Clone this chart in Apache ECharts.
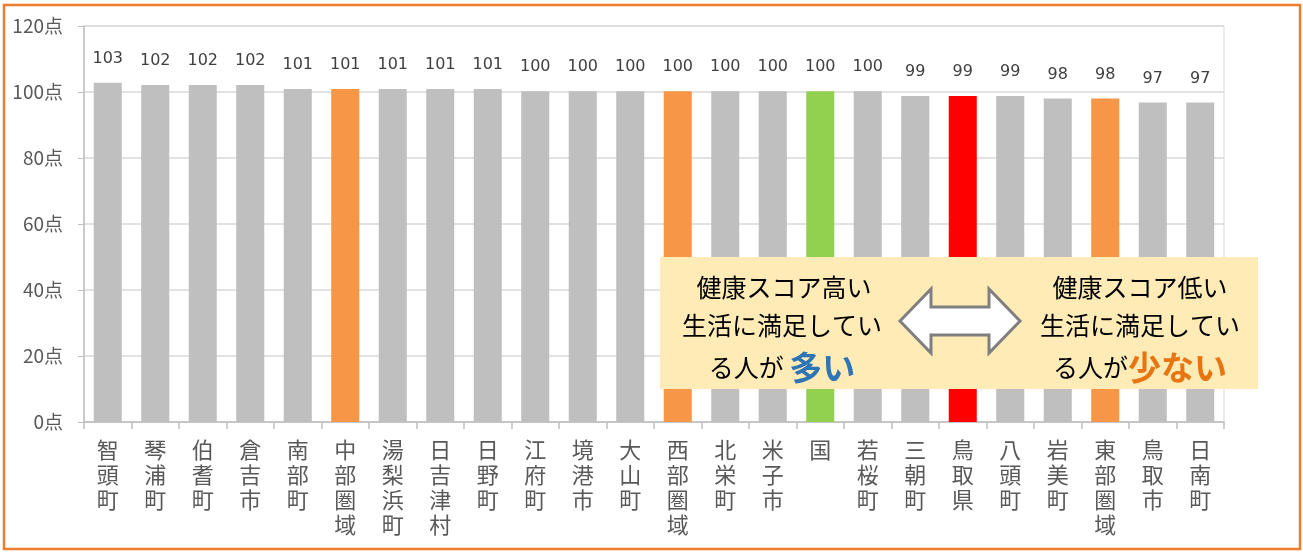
<!DOCTYPE html>
<html><head><meta charset="utf-8">
<script src="https://cdn.jsdelivr.net/npm/echarts@6/dist/echarts.min.js"></script>
<style>html,body{margin:0;padding:0;background:#fff}#c{width:1303px;height:552px}</style>
</head><body><div id="c"></div>
<script>
const categories = ['智頭町','琴浦町','伯耆町','倉吉市','南部町','中部圏域','湯梨浜町','日吉津村','日野町','江府町','境港市','大山町','西部圏域','北栄町','米子市','国','若桜町','三朝町','鳥取県','八頭町','岩美町','東部圏域','鳥取市','日南町'];
const values = [102.8,102.1,102.1,102.1,100.9,100.9,100.9,100.9,100.9,100.2,100.2,100.2,100.2,100.2,100.2,100.2,100.2,98.8,98.8,98.8,98.0,98.0,96.8,96.8];
const valueLabels = [103,102,102,102,101,101,101,101,101,100,100,100,100,100,100,100,100,99,99,99,98,98,97,97];
const barColors = ['#BFBFBF','#BFBFBF','#BFBFBF','#BFBFBF','#BFBFBF','#F79646','#BFBFBF','#BFBFBF','#BFBFBF','#BFBFBF','#BFBFBF','#BFBFBF','#F79646','#BFBFBF','#BFBFBF','#92D050','#BFBFBF','#BFBFBF','#FF0000','#BFBFBF','#BFBFBF','#F79646','#BFBFBF','#BFBFBF'];
const yTicks = {min:0, max:120, interval:20, suffix:'点'};

const chart = echarts.init(document.getElementById('c'));
const jp = '"Noto Sans CJK JP", sans-serif';
chart.setOption({
  backgroundColor:'#fff',
  animation:false,
  grid:{left:84, right:79, top:26, bottom:130, show:true, borderColor:'#D9D9D9', borderWidth:1},
  xAxis:{
    type:'category', data:categories,
    axisLine:{lineStyle:{color:'#BFBFBF', width:1.5}},
    axisTick:{show:true, length:7, lineStyle:{color:'#BFBFBF', width:1.5}},
    axisLabel:{interval:0, margin:15, color:'#595959', fontFamily:jp, fontSize:22, lineHeight:25,
      verticalAlign:'top', formatter:v=>v.split('').join('\n')}
  },
  yAxis:{
    type:'value', min:yTicks.min, max:yTicks.max, interval:yTicks.interval,
    axisLine:{show:true, lineStyle:{color:'#BFBFBF', width:1.5}},
    axisTick:{show:true, length:6, lineStyle:{color:'#BFBFBF'}},
    axisLabel:{margin:21, color:'#595959', fontFamily:jp, fontSize:19, formatter:v=>v+yTicks.suffix},
    splitLine:{lineStyle:{color:'#D9D9D9', width:1.5}}
  },
  series:[{
    type:'bar', barWidth:'59%',
    data: values.map((v,i)=>({value:v, itemStyle:{color:barColors[i]}})),
    label:{show:true, position:'top', distance:14, color:'#404040', fontFamily:'"DejaVu Sans", sans-serif', fontSize:16,
      backgroundColor:'#fff', padding:[2,3],
      formatter:p=>String(valueLabels[p.dataIndex])}
  }],
  graphic:[
    {type:'rect', shape:{x:4, y:5, width:1296, height:544}, style:{fill:null, stroke:'#ED7D31', lineWidth:2.5}, z:100},
    {type:'rect', shape:{x:660, y:257, width:598, height:132}, style:{fill:'#FFEBB6'}, z:100},
    {type:'polygon', shape:{points:[[900,321],[931,289],[931,307],[989,307],[989,289],[1020,321],[989,353],[989,335],[931,335],[931,353]]},
      style:{fill:'#fff', stroke:'#7F7F7F', lineWidth:3, lineJoin:'miter'}, z:101},
    {type:'text', z:101, style:{text:'健康スコア高い', x:784, y:287, align:'center', verticalAlign:'middle', fill:'#000', font:'25px '+jp}},
    {type:'text', z:101, style:{text:'生活に満足してい', x:782, y:325, align:'center', verticalAlign:'middle', fill:'#000', font:'25px '+jp}},
    {type:'text', z:101, style:{text:'{a|る人が }{b|多い}', x:782, y:367, align:'center', verticalAlign:'middle',
      rich:{a:{fill:'#000', font:'25px '+jp}, b:{fill:'#2E75B6', font:'bold 33px '+jp}}}},
    {type:'text', z:101, style:{text:'健康スコア低い', x:1140, y:287, align:'center', verticalAlign:'middle', fill:'#000', font:'25px '+jp}},
    {type:'text', z:101, style:{text:'生活に満足してい', x:1140, y:325, align:'center', verticalAlign:'middle', fill:'#000', font:'25px '+jp}},
    {type:'text', z:101, style:{text:'{a|る人が}{b|少ない}', x:1140, y:367, align:'center', verticalAlign:'middle',
      rich:{a:{fill:'#000', font:'25px '+jp}, b:{fill:'#E87511', font:'bold 33px '+jp}}}}
  ]
});
</script></body></html>
